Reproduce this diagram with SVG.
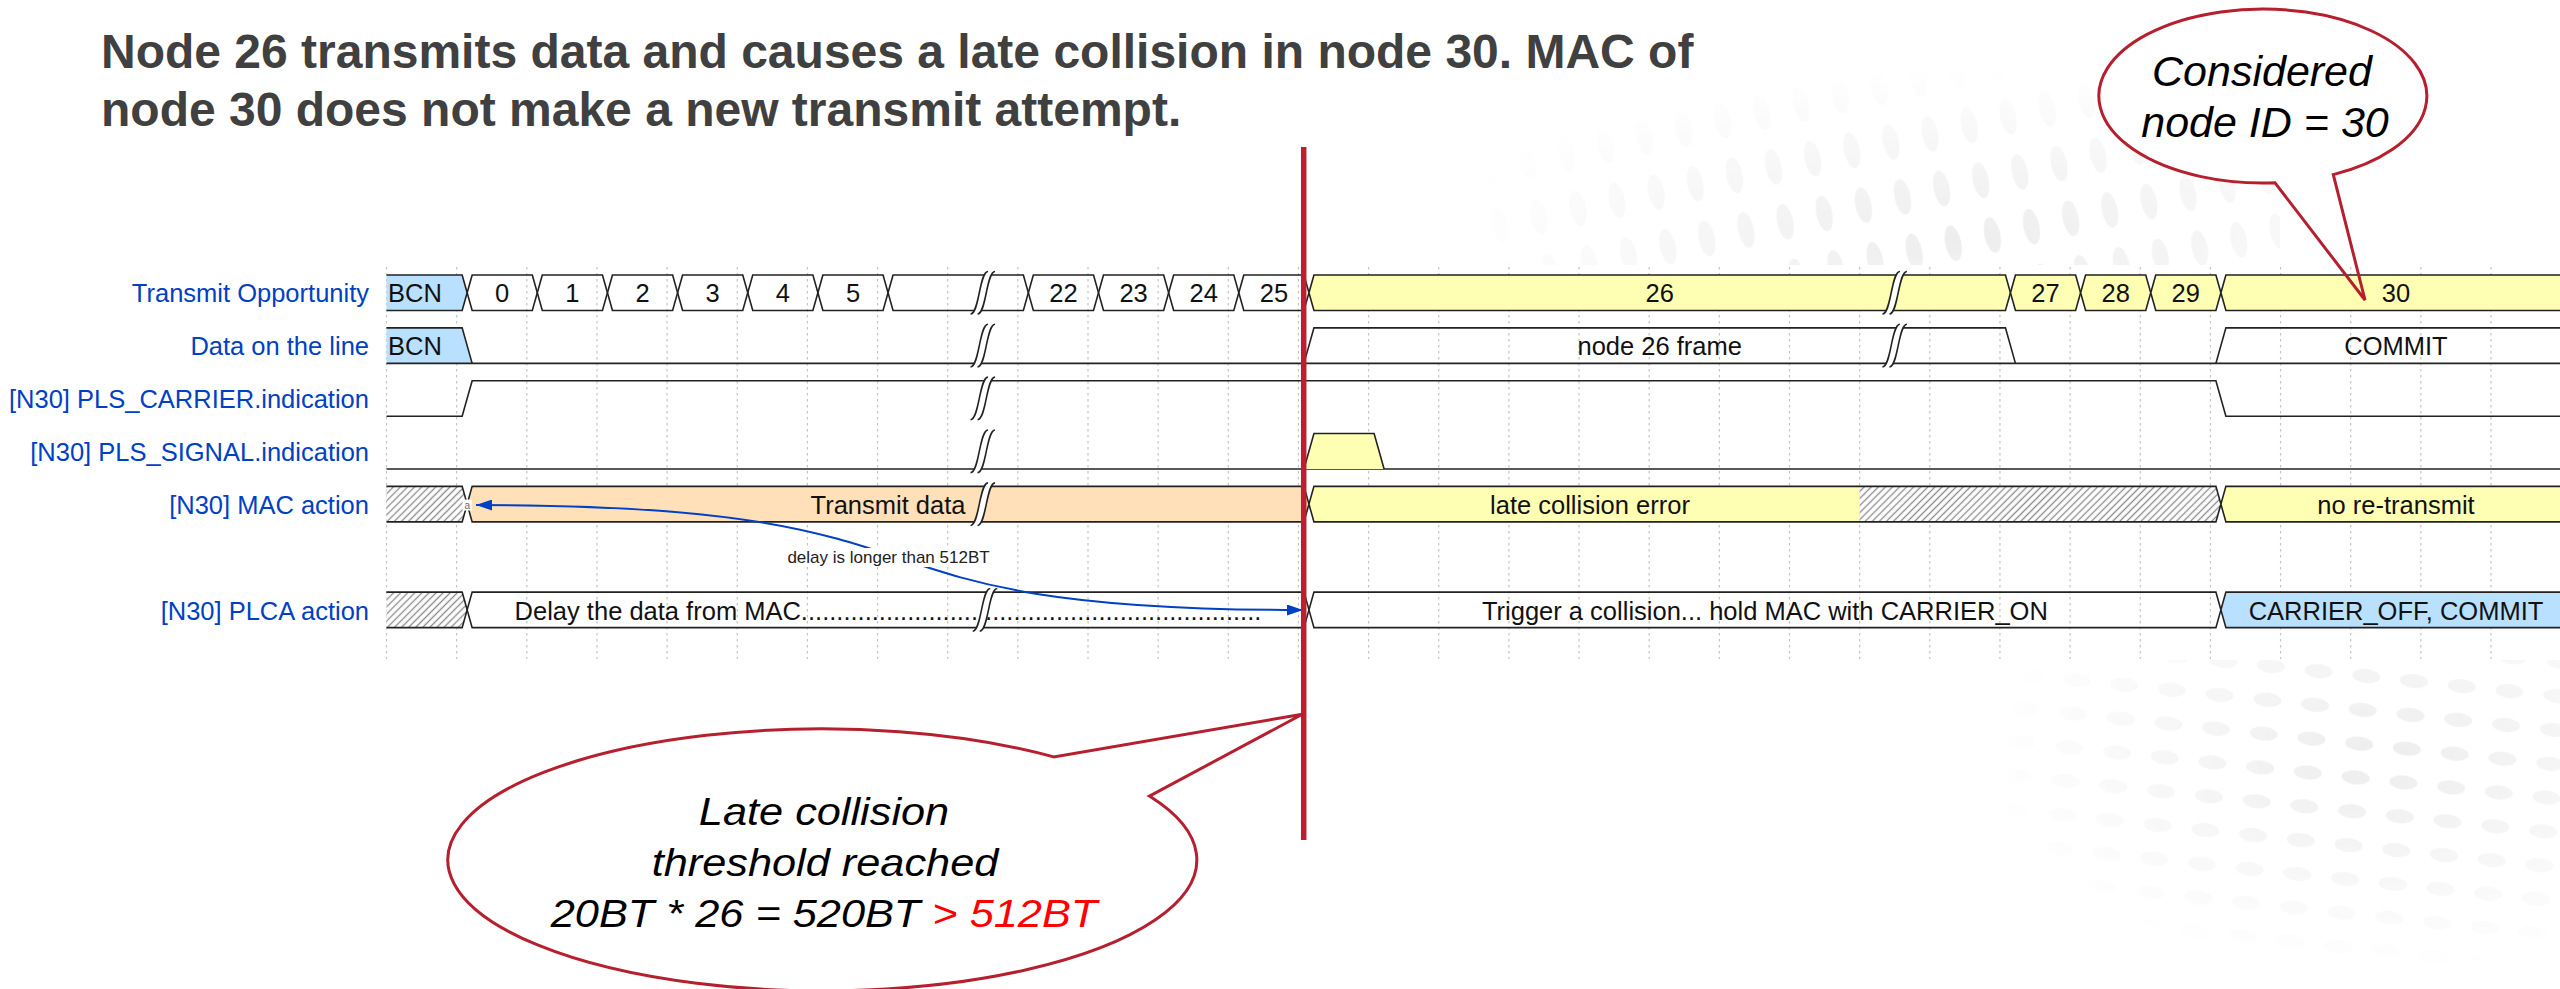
<svg xmlns="http://www.w3.org/2000/svg" xmlns:xlink="http://www.w3.org/1999/xlink" width="2560" height="989" viewBox="0 0 2560 989">
<style>
.lbl{font-family:"Liberation Sans",Arial,sans-serif;font-size:25.5px;fill:#0041c4;text-anchor:end}
.tx{font-family:"Liberation Sans",Arial,sans-serif;font-size:25.5px;fill:#111;text-anchor:middle}
.w{fill:none;stroke:#222;stroke-width:1.6;stroke-linejoin:miter}
.wf{stroke:#222;stroke-width:1.6}
.yel{fill:#ffffb4}
.org{fill:#ffe0b9}
.blu{fill:#b9e0ff}
.ht{fill:url(#hatch)}
.grid{fill:none;stroke:#c4c4c4;stroke-width:1.2;stroke-dasharray:2.5 3.5}
.title{font-family:"Liberation Sans",Arial,sans-serif;font-size:48px;font-weight:bold;fill:#404040}
.call{fill:#fff;stroke:#b51f2e;stroke-width:3;stroke-linejoin:miter}
.ct{font-family:"Liberation Sans",Arial,sans-serif;font-style:italic;fill:#000;text-anchor:middle}
</style>
<defs>
<pattern id="hatch" width="5" height="5" patternUnits="userSpaceOnUse" patternTransform="rotate(45)"><rect width="5" height="5" fill="#fff"/><line x1="2.5" y1="0" x2="2.5" y2="5" stroke="#8a8a8a" stroke-width="1.3"/></pattern>
<g id="gap"><path d="m 7,-2 -4,0 c -5,0 -5,24 -10,24 l 4,0 C 2,22 2,-2 7,-2 z" fill="#fff" stroke="none"/><path d="M -7,22 C -2,22 -2,-2 3,-2" fill="none" stroke="#222" stroke-width="0.9"/><path d="M -3,22 C 2,22 2,-2 7,-2" fill="none" stroke="#222" stroke-width="0.9"/></g>
<marker id="arr" viewBox="0 0 16 11" markerWidth="16" markerHeight="11" refX="16" refY="5.5" orient="auto-start-reverse" markerUnits="userSpaceOnUse"><path d="M0,0 L16,5.5 L0,11 Z" fill="#0041c4"/></marker>
<pattern id="dotsA" width="40" height="56" patternUnits="userSpaceOnUse" patternTransform="rotate(-12)"><ellipse cx="20" cy="28" rx="8" ry="18" fill="#ededed"/></pattern>
<radialGradient id="fadeA" cx="0.6" cy="0.9" r="0.65"><stop offset="0" stop-color="#fff"/><stop offset="1" stop-color="#000"/></radialGradient>
<mask id="maskA"><rect x="1480" y="0" width="800" height="265" fill="url(#fadeA)"/></mask>
<pattern id="dotsB" width="48" height="34" patternUnits="userSpaceOnUse" patternTransform="rotate(6)"><ellipse cx="24" cy="17" rx="14" ry="7" fill="#ededed"/></pattern>
<radialGradient id="fadeB" cx="0.7" cy="0.3" r="0.65"><stop offset="0" stop-color="#fff"/><stop offset="1" stop-color="#000"/></radialGradient>
<mask id="maskB"><rect x="1950" y="660" width="610" height="329" fill="url(#fadeB)"/></mask>
</defs>

<g id="background">
<rect x="0" y="0" width="2560" height="989" fill="#fff"/>
<rect x="1480" y="0" width="800" height="265" fill="url(#dotsA)" mask="url(#maskA)"/>
<rect x="1950" y="660" width="610" height="329" fill="url(#dotsB)" mask="url(#maskB)"/>
</g>

<g id="title">
<text class="title" x="101" y="68">Node 26 transmits data and causes a late collision in node 30. MAC of</text>
<text class="title" x="101" y="126">node 30 does not make a new transmit attempt.</text>
</g>

<g id="callout-node-fill">
<path d="M2275,182.8 A164,87 0 1 1 2333.3,174.6 L2365,300 Z" fill="#fff"/>
</g>

<rect x="0" y="265" width="2560" height="395" fill="#fff"/>

<g id="grid">
<path class="grid" d="M386.5,267V659M456.65,267V659M526.8,267V659M596.95,267V659M667.1,267V659M737.25,267V659M807.4,267V659M877.55,267V659M947.7,267V659M1017.85,267V659M1088,267V659M1158.15,267V659M1228.3,267V659M1298.45,267V659M1368.6,267V659M1438.75,267V659M1508.9,267V659M1579.05,267V659M1649.2,267V659M1719.35,267V659M1789.5,267V659M1859.65,267V659M1929.8,267V659M1999.95,267V659M2070.1,267V659M2140.25,267V659M2210.4,267V659M2280.55,267V659M2350.7,267V659M2420.85,267V659M2491,267V659"/>
</g>

<g id="labels">
<text class="lbl" x="369" y="302.4">Transmit Opportunity</text>
<text class="lbl" x="369" y="355.2">Data on the line</text>
<text class="lbl" x="369" y="408.2">[N30] PLS_CARRIER.indication</text>
<text class="lbl" x="369" y="461">[N30] PLS_SIGNAL.indication</text>
<text class="lbl" x="369" y="513.8">[N30] MAC action</text>
<text class="lbl" x="369" y="619.5">[N30] PLCA action</text>
</g>

<g id="row-transmit-opportunity">
<path class="wf blu" d="M386.5,275 L462.15,275 L467.15,292.75 L462.15,310.5 L386.5,310.5"/>
<path class="w" d="M467.15,292.75 L472.15,275 L532.3,275 L537.3,292.75 L532.3,310.5 L472.15,310.5 Z"/>
<path class="w" d="M537.3,292.75 L542.3,275 L602.45,275 L607.45,292.75 L602.45,310.5 L542.3,310.5 Z"/>
<path class="w" d="M607.45,292.75 L612.45,275 L672.6,275 L677.6,292.75 L672.6,310.5 L612.45,310.5 Z"/>
<path class="w" d="M677.6,292.75 L682.6,275 L742.75,275 L747.75,292.75 L742.75,310.5 L682.6,310.5 Z"/>
<path class="w" d="M747.75,292.75 L752.75,275 L812.9,275 L817.9,292.75 L812.9,310.5 L752.75,310.5 Z"/>
<path class="w" d="M817.9,292.75 L822.9,275 L883.05,275 L888.05,292.75 L883.05,310.5 L822.9,310.5 Z"/>
<path class="w" d="M888.05,292.75 L893.05,275 L1023.35,275 L1028.35,292.75 L1023.35,310.5 L893.05,310.5 Z"/>
<path class="w" d="M1028.35,292.75 L1033.35,275 L1093.5,275 L1098.5,292.75 L1093.5,310.5 L1033.35,310.5 Z"/>
<path class="w" d="M1098.5,292.75 L1103.5,275 L1163.65,275 L1168.65,292.75 L1163.65,310.5 L1103.5,310.5 Z"/>
<path class="w" d="M1168.65,292.75 L1173.65,275 L1233.8,275 L1238.8,292.75 L1233.8,310.5 L1173.65,310.5 Z"/>
<path class="w" d="M1238.8,292.75 L1243.8,275 L1303.95,275 L1308.95,292.75 L1303.95,310.5 L1243.8,310.5 Z"/>
<path class="wf yel" d="M1308.95,292.75 L1313.95,275 L2005.45,275 L2010.45,292.75 L2005.45,310.5 L1313.95,310.5 Z"/>
<path class="wf yel" d="M2010.45,292.75 L2015.45,275 L2075.6,275 L2080.6,292.75 L2075.6,310.5 L2015.45,310.5 Z"/>
<path class="wf yel" d="M2080.6,292.75 L2085.6,275 L2145.75,275 L2150.75,292.75 L2145.75,310.5 L2085.6,310.5 Z"/>
<path class="wf yel" d="M2150.75,292.75 L2155.75,275 L2215.9,275 L2220.9,292.75 L2215.9,310.5 L2155.75,310.5 Z"/>
<path class="wf yel" d="M2562,275 L2225.9,275 L2220.9,292.75 L2225.9,310.5 L2562,310.5"/>
<text class="tx" x="415" y="302.4">BCN</text>
<text class="tx" x="502.2" y="302.4">0</text>
<text class="tx" x="572.4" y="302.4">1</text>
<text class="tx" x="642.5" y="302.4">2</text>
<text class="tx" x="712.7" y="302.4">3</text>
<text class="tx" x="782.8" y="302.4">4</text>
<text class="tx" x="853" y="302.4">5</text>
<text class="tx" x="1063.4" y="302.4">22</text>
<text class="tx" x="1133.6" y="302.4">23</text>
<text class="tx" x="1203.7" y="302.4">24</text>
<text class="tx" x="1273.9" y="302.4">25</text>
<text class="tx" x="1659.7" y="302.4">26</text>
<text class="tx" x="2045.5" y="302.4">27</text>
<text class="tx" x="2115.7" y="302.4">28</text>
<text class="tx" x="2185.8" y="302.4">29</text>
<text class="tx" x="2396" y="302.4">30</text>
<use xlink:href="#gap" href="#gap" transform="translate(982.8,275) scale(1.75,1.775)"/>
<use xlink:href="#gap" href="#gap" transform="translate(1894.7,275) scale(1.75,1.775)"/>
</g>

<g id="row-data-on-line">
<path class="blu" d="M386.5,327.85 L462.15,327.85 L472.15,363.35 L386.5,363.35 Z"/>
<path class="w" d="M386.5,327.85 L462.15,327.85 L472.15,363.35"/>
<path class="w" d="M1303.95,363.35 L1313.95,327.85 L2005.45,327.85 L2015.45,363.35"/>
<path class="w" d="M2215.9,363.35 L2225.9,327.85 L2562,327.85"/>
<path class="w" d="M386.5,363.35 L2562,363.35"/>
<text class="tx" x="415" y="355.2">BCN</text>
<text class="tx" x="1659.7" y="355.2">node 26 frame</text>
<text class="tx" x="2396" y="355.2">COMMIT</text>
<use xlink:href="#gap" href="#gap" transform="translate(982.8,327.85) scale(1.75,1.775)"/>
<use xlink:href="#gap" href="#gap" transform="translate(1894.7,327.85) scale(1.75,1.775)"/>
</g>

<g id="row-pls-carrier">
<path class="w" d="M386.5,416.2 L462.15,416.2 L472.15,380.7 L2215.9,380.7 L2225.9,416.2 L2562,416.2"/>
<use xlink:href="#gap" href="#gap" transform="translate(982.8,380.7) scale(1.75,1.775)"/>
</g>

<g id="row-pls-signal">
<path class="w" d="M386.5,469.05 L2562,469.05"/>
<path class="wf yel" d="M1303.95,469.05 L1313.95,433.55 L1374.1,433.55 L1384.1,469.05"/>
<use xlink:href="#gap" href="#gap" transform="translate(982.8,433.55) scale(1.75,1.775)"/>
</g>

<g id="row-mac-action">
<path class="ht" d="M386.5,486.4 L462.15,486.4 L467.15,504.15 L462.15,521.9 L386.5,521.9 Z"/>
<path class="w" d="M386.5,486.4 L462.15,486.4 L467.15,504.15 L462.15,521.9 L386.5,521.9"/>
<path class="wf org" d="M467.15,504.15 L472.15,486.4 L1303.95,486.4 L1308.95,504.15 L1303.95,521.9 L472.15,521.9 Z"/>
<path class="yel" d="M1308.95,504.15 L1313.95,486.4 L1859.65,486.4 L1859.65,521.9 L1313.95,521.9 Z"/>
<path class="ht" d="M1859.65,486.4 L2215.9,486.4 L2220.9,504.15 L2215.9,521.9 L1859.65,521.9 Z"/>
<path class="w" d="M1308.95,504.15 L1313.95,486.4 L2215.9,486.4 L2220.9,504.15 L2215.9,521.9 L1313.95,521.9 Z"/>
<path class="wf yel" d="M2562,486.4 L2225.9,486.4 L2220.9,504.15 L2225.9,521.9 L2562,521.9"/>
<text class="tx" x="888" y="513.8">Transmit data</text>
<text class="tx" x="1590" y="513.8">late collision error</text>
<text class="tx" x="2396" y="513.8">no re-transmit</text>
<use xlink:href="#gap" href="#gap" transform="translate(982.8,486.4) scale(1.75,1.775)"/>
</g>

<g id="row-plca-action">
<path class="ht" d="M386.5,592.1 L462.15,592.1 L467.15,609.85 L462.15,627.6 L386.5,627.6 Z"/>
<path class="w" d="M386.5,592.1 L462.15,592.1 L467.15,609.85 L462.15,627.6 L386.5,627.6"/>
<path class="w" d="M467.15,609.85 L472.15,592.1 L1303.95,592.1 L1308.95,609.85 L1303.95,627.6 L472.15,627.6 Z"/>
<path class="w" d="M1308.95,609.85 L1313.95,592.1 L2215.9,592.1 L2220.9,609.85 L2215.9,627.6 L1313.95,627.6 Z"/>
<path class="wf blu" d="M2562,592.1 L2225.9,592.1 L2220.9,609.85 L2225.9,627.6 L2562,627.6"/>
<text class="tx" x="888" y="619.5">Delay the data from MAC.................................................................</text>
<text class="tx" x="1764.9" y="619.5">Trigger a collision... hold MAC with CARRIER_ON</text>
<text class="tx" x="2396" y="619.5">CARRIER_OFF, COMMIT</text>
<use xlink:href="#gap" href="#gap" transform="translate(985,592.1) scale(1.75,1.775)"/>
</g>

<g id="connectors">
<path d="M476,505 C1000,505 800,610 1303,610" fill="none" stroke="#0041c4" stroke-width="2" marker-start="url(#arr)" marker-end="url(#arr)"/>
<rect x="783" y="548" width="211" height="19" fill="#fff"/>
<text x="888.5" y="563" font-family="Liberation Sans, Arial, sans-serif" font-size="17" fill="#222" text-anchor="middle">delay is longer than 512BT</text>
<rect x="462.5" y="499.5" width="9.5" height="11" fill="#fff"/>
<text x="467.3" y="508.5" font-family="Liberation Sans, Arial, sans-serif" font-size="10" fill="#666" text-anchor="middle">a</text>
</g>

<g id="threshold-line">
<path d="M1303.7,147 V840" stroke="#be1e2d" stroke-width="5.5" fill="none"/>
</g>

<g id="callout-late-collision">
<path class="call" d="M1053.7,756.9 A374.5,131 0 1 0 1149.4,796.1 L1302.4,714.3 Z"/>
<text class="ct" font-size="38" transform="translate(824,825) scale(1.14,1)">Late collision</text>
<text class="ct" font-size="38" transform="translate(825,876) scale(1.14,1)">threshold reached</text>
<text class="ct" font-size="38" transform="translate(824,927) scale(1.14,1)">20BT * 26 = 520BT <tspan fill="#ff0000">&gt; 512BT</tspan></text>
</g>

<g id="callout-node-id">
<path d="M2275,182.8 A164,87 0 1 1 2333.3,174.6 L2365,300 Z" fill="none" stroke="#b51f2e" stroke-width="3"/>
<text class="ct" font-size="43" x="2262" y="86">Considered</text>
<text class="ct" font-size="43" x="2265" y="137">node ID = 30</text>
</g>
</svg>
